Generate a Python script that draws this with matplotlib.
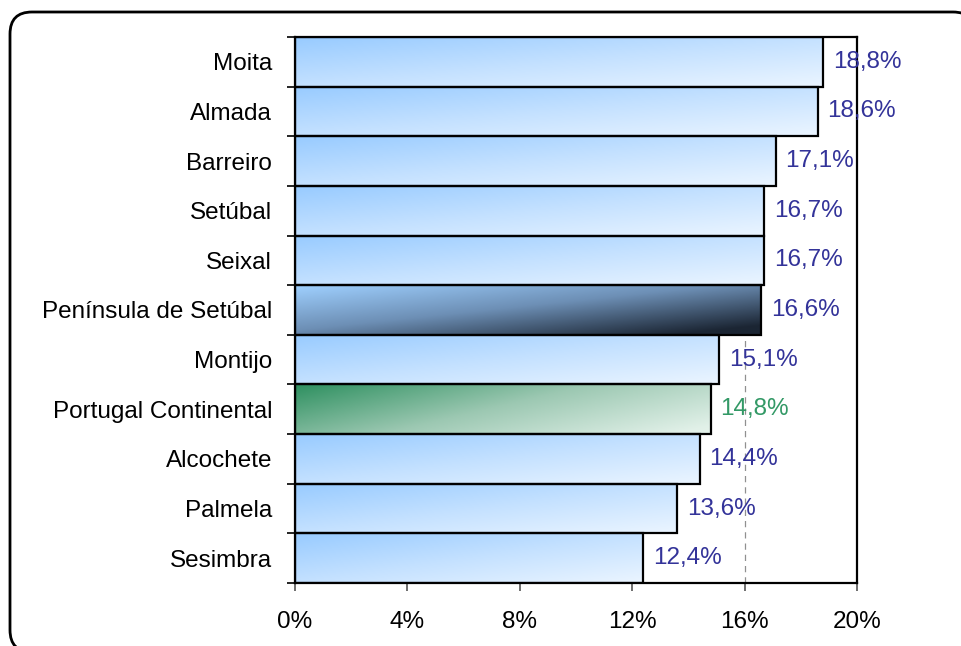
import matplotlib
matplotlib.use("Agg")
import matplotlib.pyplot as plt
import numpy as np
from matplotlib.colors import LinearSegmentedColormap
from matplotlib.patches import FancyBboxPatch
from matplotlib.transforms import Affine2D
from matplotlib.ticker import FuncFormatter

categories = ["Moita", "Almada", "Barreiro", "Setúbal", "Seixal",
              "Península de Setúbal", "Montijo", "Portugal Continental",
              "Alcochete", "Palmela", "Sesimbra"]
values = [18.8, 18.6, 17.1, 16.7, 16.7, 16.6, 15.1, 14.8, 14.4, 13.6, 12.4]
value_labels = ["18,8%", "18,6%", "17,1%", "16,7%", "16,7%", "16,6%",
                "15,1%", "14,8%", "14,4%", "13,6%", "12,4%"]
x_ticks = [0, 4, 8, 12, 16, 20]
ref_line = 16

W, H = 962, 646

plt.rcParams['font.family'] = ['Liberation Sans', 'DejaVu Sans']

cmap_blue = LinearSegmentedColormap.from_list("b", ["#98cbff", "#c4e1ff", "#ebf5ff"])
cmap_dark = LinearSegmentedColormap.from_list("d", ["#9fd0ff", "#6d8fb5", "#1b2533"])
cmap_green = LinearSegmentedColormap.from_list("g", ["#2e9060", "#9cc8b2", "#e2f1e9"])


def gradient(a, b, n=60):
    h = np.linspace(0, 1, 200)[None, :]
    v = np.linspace(0, 1, n)[:, None]
    return np.clip(a * h + b * v, 0, 1)


def main():
    fig = plt.figure(figsize=(W / 100, H / 100), dpi=100)
    ax = fig.add_axes([295 / W, 1 - 583 / H, 562 / W, 546 / H])

    n = len(categories)
    ypos = np.arange(n)

    ax.axvline(ref_line, color="#909090", lw=0.9, ls=(0, (5, 4)), zorder=1)

    bars = ax.barh(ypos, values, height=1.0, facecolor="none",
                   edgecolor="black", linewidth=1.6, zorder=3)

    for i, (bar, val, lab) in enumerate(zip(bars, values, value_labels)):
        if categories[i] == "Península de Setúbal":
            cm, g, col = cmap_dark, gradient(0.55, 0.55), "#333399"
        elif categories[i] == "Portugal Continental":
            cm, g, col = cmap_green, gradient(0.7, 0.35), "#339966"
        else:
            cm, g, col = cmap_blue, gradient(0.5, 0.5), "#333399"
        im = ax.imshow(g, cmap=cm, vmin=0, vmax=1, aspect="auto",
                       extent=[0, val, i + 0.5, i - 0.5], zorder=2,
                       interpolation="bilinear")
        im.set_clip_path(bar)
        ax.annotate(lab, (val, i), xytext=(7, 0), textcoords="offset points",
                    va="center", ha="left", fontsize=17.5, color=col, zorder=4)

    ax.set_xlim(0, 20)
    ax.set_ylim(n - 0.5, -0.5)
    ax.set_xticks(x_ticks)
    ax.xaxis.set_major_formatter(FuncFormatter(lambda x, p: "%d%%" % x))
    ax.tick_params(axis="x", length=6, width=1.2, color="#555555",
                   labelsize=17.5, pad=14)

    ax.set_yticks(np.arange(n + 1) - 0.5)
    ax.set_yticklabels([])
    ax.set_yticks(ypos, categories, minor=True)
    ax.tick_params(axis="y", which="major", length=6, width=1.2)
    ax.tick_params(axis="y", which="minor", length=0, labelsize=17.5, pad=16.5)

    for s in ax.spines.values():
        s.set_linewidth(1.6)

    # rounded outer frame, in pixel units mapped onto the figure
    # (filled so Agg does not clip it into a straight edge at the canvas border)
    px = Affine2D().scale(1 / W, 1 / H) + fig.transFigure
    frame = FancyBboxPatch((10, -6), 965, 640,
                           boxstyle="round,pad=0,rounding_size=22",
                           transform=px, facecolor="white",
                           edgecolor="black", linewidth=2, zorder=-5)
    fig.patches.append(frame)

    fig.savefig("out.png", dpi=100)


if __name__ == "__main__":
    main()
